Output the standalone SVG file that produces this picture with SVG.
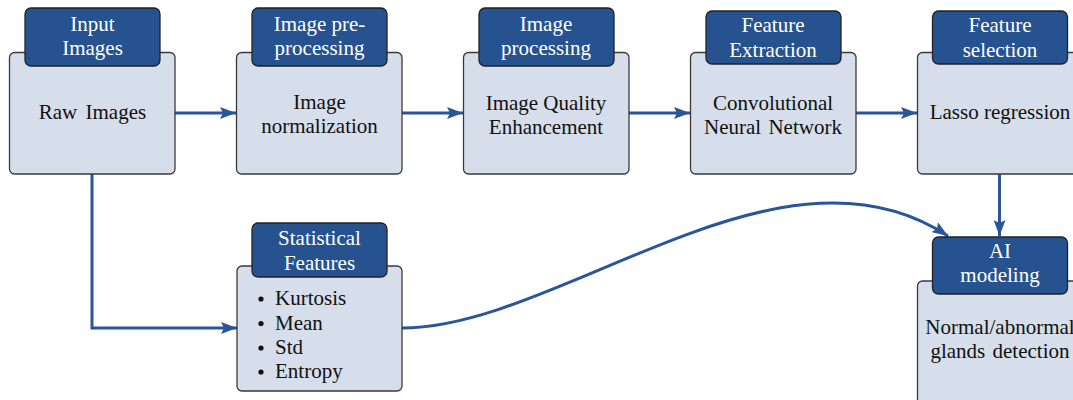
<svg xmlns="http://www.w3.org/2000/svg" width="1073" height="400" viewBox="0 0 1073 400">
<style>
.body{fill:#D5DEEA;stroke:#3a3a3a;stroke-width:1.3}
.head{fill:#26538F;stroke:#222;stroke-width:1.3}
.t{font-family:"Liberation Serif","Times New Roman",serif;font-size:21px;fill:#111;text-anchor:middle}
.h{font-family:"Liberation Serif","Times New Roman",serif;font-size:21px;fill:#fff;text-anchor:middle}
.l{font-family:"Liberation Serif","Times New Roman",serif;font-size:21px;fill:#111}
.c{fill:none;stroke:#2A5599;stroke-width:3}
</style>
<defs>
<marker id="ah" viewBox="0 0 16 12" refX="16" refY="6" markerWidth="16" markerHeight="12" markerUnits="userSpaceOnUse" orient="auto">
<path d="M0,0 L16,6 L0,12 L3,6 Z" fill="#2A5599"/>
</marker>
</defs>
<rect width="1073" height="400" fill="#fff"/>
<g id="connectors">
<line class="c" x1="175" y1="113" x2="236" y2="113" marker-end="url(#ah)"/>
<line class="c" x1="402" y1="113" x2="463" y2="113" marker-end="url(#ah)"/>
<line class="c" x1="628" y1="113" x2="690" y2="113" marker-end="url(#ah)"/>
<line class="c" x1="855" y1="113" x2="917" y2="113" marker-end="url(#ah)"/>
<line class="c" x1="999.5" y1="174" x2="999.5" y2="236" marker-end="url(#ah)"/>
<path class="c" d="M92,174 L92,328 L237,328" marker-end="url(#ah)"/>
<path class="c" d="M402,328 C560,328 780,125 948,236" marker-end="url(#ah)"/>
</g>
<g id="node-input">
<rect class="body" x="9.5" y="52.5" width="165.5" height="121.5" rx="5"/>
<rect class="head" x="25" y="8" width="135" height="58" rx="6"/>
<text class="h" x="92.5" y="31">Input</text>
<text class="h" x="92.5" y="55">Images</text>
<text class="t" x="92.5" y="118.5" word-spacing="3">Raw Images</text>
</g>
<g id="node-preprocessing">
<rect class="body" x="236.5" y="52.5" width="165.5" height="121.5" rx="5"/>
<rect class="head" x="252" y="8" width="135" height="58" rx="6"/>
<text class="h" x="319.5" y="31">Image pre-</text>
<text class="h" x="319.5" y="55">processing</text>
<text class="t" x="319.5" y="108.5">Image</text>
<text class="t" x="319.5" y="132.5">normalization</text>
</g>
<g id="node-processing">
<rect class="body" x="463.5" y="52.5" width="165.5" height="121.5" rx="5"/>
<rect class="head" x="479" y="8" width="135" height="58" rx="6"/>
<text class="h" x="546" y="31">Image</text>
<text class="h" x="546" y="55">processing</text>
<text class="t" x="546" y="109.5">Image Quality</text>
<text class="t" x="546" y="133.5">Enhancement</text>
</g>
<g id="node-extraction">
<rect class="body" x="690.5" y="52.5" width="165.5" height="121.5" rx="5"/>
<rect class="head" x="706" y="11" width="135" height="53" rx="6"/>
<text class="h" x="773" y="32">Feature</text>
<text class="h" x="773" y="56.5">Extraction</text>
<text class="t" x="773" y="109.5">Convolutional</text>
<text class="t" x="773" y="133.5" word-spacing="2">Neural Network</text>
</g>
<g id="node-selection">
<rect class="body" x="917.5" y="52.5" width="165.5" height="121.5" rx="5"/>
<rect class="head" x="932.5" y="11" width="135" height="53" rx="6"/>
<text class="h" x="1000" y="32">Feature</text>
<text class="h" x="1000" y="56.5">selection</text>
<text class="t" x="1000" y="118.5">Lasso regression</text>
</g>
<g id="node-statistical">
<rect class="body" x="237" y="266" width="165" height="125" rx="5"/>
<rect class="head" x="252" y="223" width="135" height="54" rx="6"/>
<text class="h" x="319.5" y="245">Statistical</text>
<text class="h" x="319.5" y="269.5">Features</text>
<circle cx="261" cy="299" r="2.6" fill="#111"/>
<circle cx="261" cy="323.5" r="2.6" fill="#111"/>
<circle cx="261" cy="348" r="2.6" fill="#111"/>
<circle cx="261" cy="372" r="2.6" fill="#111"/>
<text class="l" x="275" y="305">Kurtosis</text>
<text class="l" x="275" y="329.5">Mean</text>
<text class="l" x="275" y="354">Std</text>
<text class="l" x="275" y="378">Entropy</text>
</g>
<g id="node-ai">
<rect class="body" x="917.5" y="281" width="165.5" height="130" rx="5"/>
<rect class="head" x="932.5" y="237" width="135" height="57" rx="6"/>
<text class="h" x="1000" y="258">AI</text>
<text class="h" x="1000" y="282">modeling</text>
<text class="t" x="1000" y="333.5">Normal/abnormal</text>
<text class="t" x="1000" y="358" word-spacing="2">glands detection</text>
</g>
</svg>
